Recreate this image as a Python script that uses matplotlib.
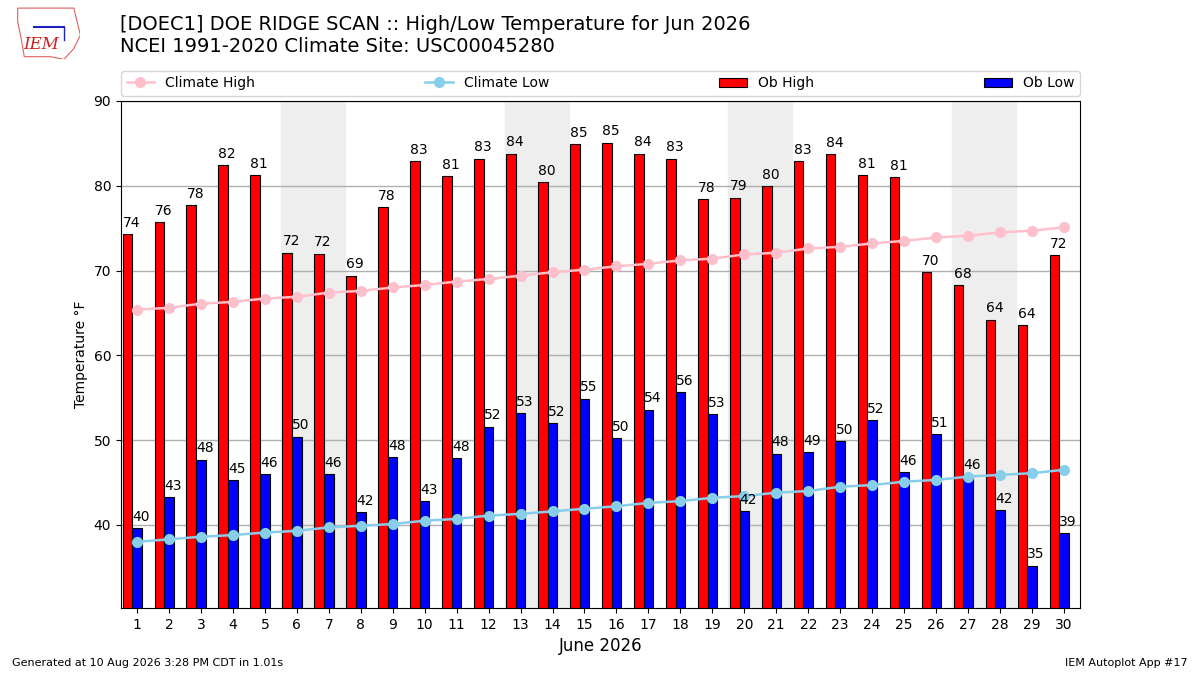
import matplotlib
matplotlib.use("Agg")
import matplotlib.pyplot as plt
import numpy as np
from matplotlib.patches import Polygon

days = np.arange(1, 31)
ob_high = [74.3, 75.7, 77.7, 82.4, 81.3, 72.1, 72.0, 69.4, 77.5, 82.9,
           81.1, 83.2, 83.8, 80.4, 84.9, 85.1, 83.8, 83.2, 78.4, 78.6,
           80.0, 82.9, 83.7, 81.3, 81.0, 69.8, 68.3, 64.2, 63.6, 71.8]
ob_low = [39.6, 43.3, 47.7, 45.3, 46.0, 50.4, 46.0, 41.5, 48.0, 42.8,
          47.9, 51.6, 53.2, 52.0, 54.9, 50.2, 53.6, 55.7, 53.1, 41.6,
          48.4, 48.6, 49.9, 52.4, 46.2, 50.7, 45.7, 41.7, 35.2, 39.0]
clim_high = [65.4, 65.6, 66.1, 66.3, 66.7, 66.9, 67.4, 67.6, 68.0, 68.3,
             68.7, 69.0, 69.4, 69.8, 70.1, 70.5, 70.8, 71.2, 71.4, 71.9,
             72.1, 72.6, 72.8, 73.2, 73.5, 73.9, 74.1, 74.5, 74.7, 75.1]
clim_low = [38.0, 38.3, 38.6, 38.8, 39.1, 39.3, 39.7, 39.9, 40.1, 40.5,
            40.7, 41.1, 41.3, 41.6, 41.9, 42.2, 42.6, 42.8, 43.2, 43.4,
            43.8, 44.0, 44.5, 44.7, 45.1, 45.3, 45.7, 45.9, 46.1, 46.5]
saturdays = [6, 13, 20, 27]

title = ("[DOEC1] DOE RIDGE SCAN :: High/Low Temperature for Jun 2026\n"
         "NCEI 1991-2020 Climate Site: USC00045280")

fig = plt.figure(figsize=(12, 6.75), dpi=100)
ax = fig.add_axes([0.1008, 0.0993, 0.7992, 0.7511])

for sat in saturdays:
    ax.axvspan(sat - 0.5, sat + 1.5, color="#eeeeee", zorder=0)

width = 0.3
b_hi = ax.bar(days - width, ob_high, width=width, color="red", edgecolor="k",
              linewidth=0.8, label="Ob High", zorder=2)
b_lo = ax.bar(days, ob_low, width=width, color="blue", edgecolor="k",
              linewidth=0.8, label="Ob Low", zorder=2)
for d, hi, lo in zip(days, ob_high, ob_low):
    ax.text(d - 1.5 * width, hi + 0.5, f"{round(hi):d}", ha="left",
            va="bottom", fontsize=10, zorder=4)
    ax.text(d - 0.5 * width, lo + 0.5, f"{round(lo):d}", ha="left",
            va="bottom", fontsize=10, zorder=4)

l_hi, = ax.plot(days, clim_high, color="pink", marker="o", lw=1.8, ms=7,
                label="Climate High", zorder=3)
l_lo, = ax.plot(days, clim_low, color="skyblue", marker="o", lw=1.8, ms=7,
                label="Climate Low", zorder=3)

ax.set_xlim(0.5, 30.5)
ax.set_ylim(min(ob_low) - 5, 90)
ax.set_xticks(days)
ax.set_yticks([40, 50, 60, 70, 80, 90])
ax.grid(axis="y", color="#b0b0b0", lw=1, zorder=1)
ax.set_axisbelow(True)
ax.set_ylabel("Temperature °F", fontsize=10)
ax.set_xlabel("June 2026", fontsize=12)

ax.legend([l_hi, l_lo, b_hi, b_lo],
          ["Climate High", "Climate Low", "Ob High", "Ob Low"],
          loc="lower left", bbox_to_anchor=(0, 1.01, 1, 0.05), ncol=4,
          mode="expand", borderaxespad=0, fontsize=10)

fig.text(0.1, 0.978, title, ha="left", va="top", fontsize=14)
fig.text(0.01, 0.01, "Generated at 10 Aug 2026 3:28 PM CDT in 1.01s",
         fontsize=8, ha="left", va="bottom")
fig.text(0.99, 0.01, "IEM Autoplot App #17", fontsize=8, ha="right",
         va="bottom")

# rough stand-in for the IEM logo
logo = fig.add_axes([0.012, 0.912, 0.055, 0.08])
logo.set_xlim(0, 1)
logo.set_ylim(0, 1)
logo.axis("off")
logo.add_patch(Polygon([[0.05, 0.95], [0.9, 0.95], [0.95, 0.7], [1.0, 0.45],
                        [0.9, 0.2], [0.75, 0.0], [0.55, 0.05], [0.15, 0.05],
                        [0.1, 0.4], [0.05, 0.7]],
                       closed=True, fill=False, edgecolor="#e06060", lw=0.8))
logo.plot([0.3, 0.75], [0.6, 0.6], color="#2020c0", lw=1.5)
logo.plot([0.75, 0.75], [0.6, 0.35], color="#2020c0", lw=1)
logo.text(0.4, 0.12, "IEM", color="#d02020", fontsize=12,
          family="serif", style="italic", ha="center", va="bottom")

fig.savefig("out.png", dpi=100)
